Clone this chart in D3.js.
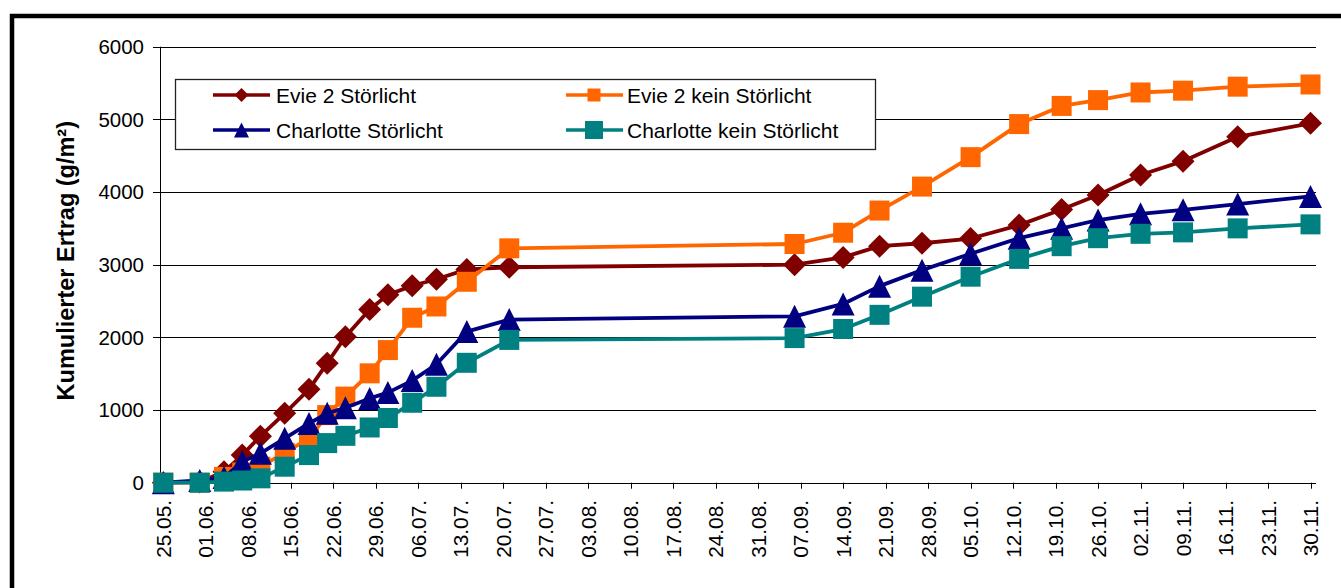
<!DOCTYPE html>
<html>
<head>
<meta charset="utf-8">
<script src="https://cdn.jsdelivr.net/npm/d3@7"></script>
<style>
  html, body { margin: 0; padding: 0; background: #fff; }
  svg { display: block; }
  text { font-family: "Liberation Sans", Arial, sans-serif; fill: #000; }
</style>
</head>
<body>
<script>
// ---------------- data ----------------
const harvestDates = ["25.05.","31.05.","04.06.","07.06.","10.06.","14.06.","18.06.","21.06.","24.06.","28.06.","01.07.","05.07.","09.07.","14.07.","21.07.","06.09.","14.09.","20.09.","27.09.","05.10.","13.10.","20.10.","26.10.","02.11.","09.11.","18.11.","30.11."];

const evieStoer      = [0, 10, 150, 380, 640, 955, 1285, 1645, 2010, 2385, 2585, 2710, 2800, 2935, 2965, 3000, 3100, 3255, 3295, 3360, 3545, 3760, 3960, 4235, 4425, 4760, 4945];
const evieKein       = [0, 0, 80, 140, 220, 410, 610, 930, 1185, 1505, 1825, 2270, 2425, 2765, 3225, 3285, 3440, 3745, 4075, 4480, 4935, 5185, 5265, 5370, 5395, 5450, 5480];
const charlotteStoer = [0, 30, 70, 290, 405, 610, 815, 955, 1030, 1160, 1240, 1405, 1630, 2080, 2245, 2290, 2460, 2705, 2925, 3150, 3365, 3500, 3615, 3700, 3755, 3835, 3940];
const charlotteKein  = [0, 0, 15, 30, 60, 220, 380, 545, 645, 760, 890, 1100, 1320, 1650, 1965, 1990, 2115, 2310, 2560, 2835, 3080, 3255, 3365, 3425, 3445, 3500, 3555];

const seriesNames = ["Evie 2 Störlicht", "Evie 2 kein Störlicht", "Charlotte Störlicht", "Charlotte kein Störlicht"];

const xTickLabels = ["25.05.","01.06.","08.06.","15.06.","22.06.","29.06.","06.07.","13.07.","20.07.","27.07.","03.08.","10.08.","17.08.","24.08.","31.08.","07.09.","14.09.","21.09.","28.09.","05.10.","12.10.","19.10.","26.10.","02.11.","09.11.","16.11.","23.11.","30.11."];
const yTicks = [0, 1000, 2000, 3000, 4000, 5000, 6000];
const yTitle = "Kumulierter Ertrag (g/m²)";

// ---------------- setup ----------------
const W = 1341, H = 588;
const parse = s => d3.utcParse("%d.%m.%Y")(s.replace(/\.$/, "") + ".2009");

const svg = d3.select("body").append("svg").attr("width", W).attr("height", H);
svg.append("rect").attr("width", W).attr("height", H).attr("fill", "#fff");

// outer frame
svg.append("rect").attr("x", 12).attr("y", 16).attr("width", 1500).attr("height", 800)
  .attr("fill", "none").attr("stroke", "#000").attr("stroke-width", 4.5);

const axisLeft = 160, axisRight = 1316;
const x = d3.scaleUtc().domain([parse(xTickLabels[0]), parse(xTickLabels[xTickLabels.length - 1])]).range([163.3, 1310.5]);
const y = d3.scaleLinear().domain([0, 6000]).range([482.7, 46.7]);

// gridlines + y ticks
const gy = svg.append("g");
gy.selectAll("line.grid").data(yTicks).join("line")
  .attr("x1", 153).attr("x2", axisRight)
  .attr("y1", d => Math.round(y(d)) + 0.5).attr("y2", d => Math.round(y(d)) + 0.5)
  .attr("stroke", "#000").attr("stroke-width", 1);
gy.selectAll("text").data(yTicks).join("text")
  .attr("x", 144).attr("y", d => y(d)).attr("dy", "0.36em")
  .attr("text-anchor", "end").style("font-size", "20.5px")
  .text(d => d);

// y axis line
svg.append("line").attr("x1", axisLeft + 0.5).attr("x2", axisLeft + 0.5)
  .attr("y1", y(6000)).attr("y2", y(0)).attr("stroke", "#000").attr("stroke-width", 1);

// x axis
const gx = svg.append("g");
gx.append("line").attr("x1", axisLeft).attr("x2", axisRight)
  .attr("y1", Math.round(y(0)) + 0.5).attr("y2", Math.round(y(0)) + 0.5)
  .attr("stroke", "#000").attr("stroke-width", 1);
gx.selectAll("line.tick").data(xTickLabels).join("line")
  .attr("x1", d => Math.round(x(parse(d))) + 0.5).attr("x2", d => Math.round(x(parse(d))) + 0.5)
  .attr("y1", y(0)).attr("y2", y(0) + 6)
  .attr("stroke", "#000").attr("stroke-width", 1);
gx.selectAll("text").data(xTickLabels).join("text")
  .attr("transform", d => `translate(${x(parse(d))},500) rotate(-90)`)
  .attr("dy", "0.36em").attr("text-anchor", "end").style("font-size", "20.8px")
  .text(d => d);

// y title
svg.append("text")
  .attr("transform", `translate(66,${(y(0) + y(6000)) / 2 - 4}) rotate(-90)`)
  .attr("dy", "0.36em").attr("text-anchor", "middle")
  .style("font-size", "23.5px").style("font-weight", "bold")
  .text(yTitle);

// ---------------- series ----------------
const colors = ["#800000", "#FF6600", "#000080", "#008080"];
const shapes = ["diamond", "square", "triangle", "square"];
const sizes = [11.5, 10, 11.5, 10];  // half-size in plot
const legSizes = [7, 6.5, 7.5, 9];   // half-size in legend
const values = [evieStoer, evieKein, charlotteStoer, charlotteKein];

function markerPath(shape, r) {
  if (shape === "diamond") return `M0,${-r}L${r},0L0,${r}L${-r},0Z`;
  if (shape === "square") return `M${-r},${-r}H${r}V${r}H${-r}Z`;
  if (shape === "triangle") return `M0,${-r}L${r},${r}H${-r}Z`;
}

const dates = harvestDates.map(parse);
const line = d3.line().x(d => x(d[0])).y(d => y(d[1]));

values.forEach((vals, i) => {
  const pts = dates.map((d, j) => [d, vals[j]]);
  const g = svg.append("g");
  g.append("path").datum(pts).attr("d", line)
    .attr("fill", "none").attr("stroke", colors[i]).attr("stroke-width", 3.8)
    .attr("stroke-linejoin", "round");
  g.selectAll("path.m").data(pts).join("path")
    .attr("transform", d => `translate(${x(d[0])},${y(d[1])})`)
    .attr("d", markerPath(shapes[i], sizes[i]))
    .attr("fill", colors[i]);
});

// ---------------- legend ----------------
const leg = svg.append("g");
leg.append("rect").attr("x", 175.5).attr("y", 79.5).attr("width", 700).attr("height", 70)
  .attr("fill", "#fff").attr("stroke", "#222").attr("stroke-width", 1.3);
const legPos = [
  {lx1: 213, lx2: 270, mx: 241.5, tx: 276, ty: 95},
  {lx1: 566, lx2: 623, mx: 594, tx: 627, ty: 95},
  {lx1: 213, lx2: 270, mx: 241.5, tx: 276, ty: 130},
  {lx1: 566, lx2: 623, mx: 594, tx: 627, ty: 130}
];
seriesNames.forEach((name, i) => {
  const p = legPos[i];
  leg.append("line").attr("x1", p.lx1).attr("x2", p.lx2).attr("y1", p.ty).attr("y2", p.ty)
    .attr("stroke", colors[i]).attr("stroke-width", 3.5);
  leg.append("path").attr("transform", `translate(${p.mx},${p.ty})`)
    .attr("d", markerPath(shapes[i], legSizes[i])).attr("fill", colors[i]);
  leg.append("text").attr("x", p.tx).attr("y", p.ty).attr("dy", "0.36em")
    .style("font-size", "21px").text(name);
});
</script>
</body>
</html>
